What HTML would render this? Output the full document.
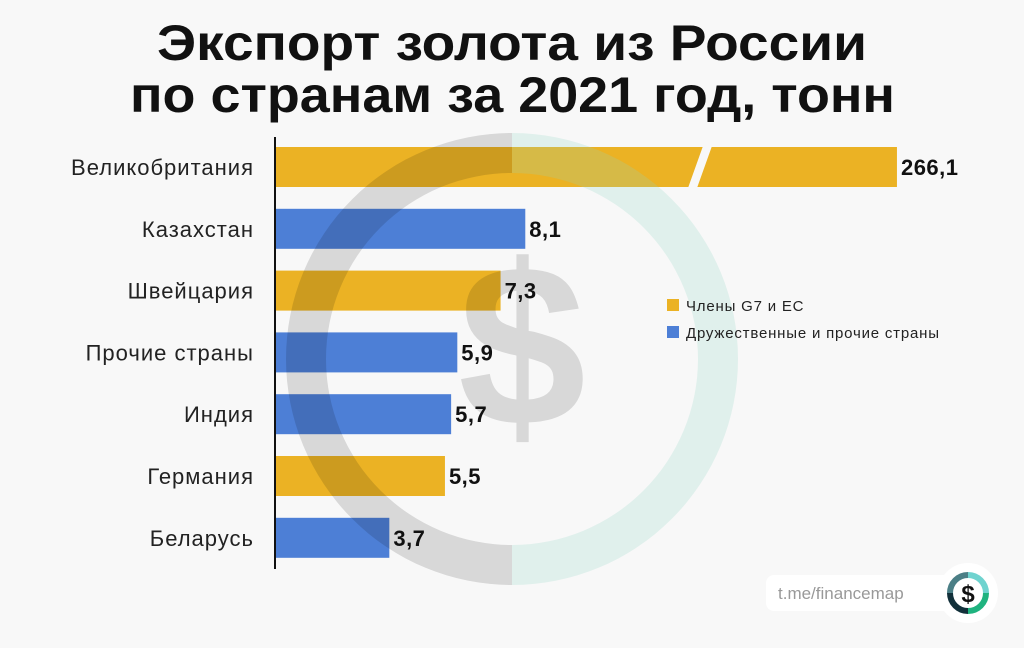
<!DOCTYPE html>
<html><head><meta charset="utf-8"><style>
html,body{margin:0;padding:0;background:#f8f8f8;}
svg{display:block;font-family:"Liberation Sans",sans-serif;}
</style></head><body>
<svg width="1024" height="648" viewBox="0 0 1024 648">
<rect width="1024" height="648" fill="#f8f8f8"/>
<text x="157" y="60" textLength="710" lengthAdjust="spacingAndGlyphs" font-size="50" font-weight="bold" fill="#111">Экспорт золота из России</text>
<text x="130" y="112" textLength="765" lengthAdjust="spacingAndGlyphs" font-size="50" font-weight="bold" fill="#111">по странам за 2021 год, тонн</text>
<g id="bars"></g>
<g id="watermark">
 <path d="M512,133 A226,226 0 0 0 512,585 L512,545 A186,186 0 0 1 512,173 Z" fill="rgba(0,0,0,0.13)"/>
 <path d="M512,133 A226,226 0 0 1 512,585 L512,545 A186,186 0 0 0 512,173 Z" fill="rgba(140,215,195,0.22)"/>
 <text x="522" y="425" text-anchor="middle" font-size="230" font-weight="bold" fill="rgba(0,0,0,0.13)">$</text>
</g>
<line x1="275" y1="137" x2="275" y2="569" stroke="#111" stroke-width="2"/>
<g id="labels"></g>
<g>
 <rect x="667" y="299" width="12" height="12" fill="#ebb224"/>
 <text x="686" y="311" font-size="15" letter-spacing="0.8" fill="#222">Члены G7 и ЕС</text>
 <rect x="667" y="326" width="12" height="12" fill="#4d7fd6"/>
 <text x="686" y="338" font-size="15" letter-spacing="0.8" fill="#222">Дружественные и прочие страны</text>
</g>
<g>
 <rect x="766" y="575" width="190" height="36" rx="8" fill="#fff"/>
 <text x="778" y="599" font-size="17" fill="#999">t.me/financemap</text>
 <circle cx="968" cy="593" r="30" fill="#fff"/>
 <path d="M968,575 A18,18 0 0 1 986,593" stroke="#6fd3cf" stroke-width="6" fill="none"/>
 <path d="M986,593 A18,18 0 0 1 968,611" stroke="#1fb37f" stroke-width="6" fill="none"/>
 <path d="M968,611 A18,18 0 0 1 950,593" stroke="#12303a" stroke-width="6" fill="none"/>
 <path d="M950,593 A18,18 0 0 1 968,575" stroke="#4b7f86" stroke-width="6" fill="none"/>
 <text x="968" y="602" text-anchor="middle" font-size="24" font-weight="bold" fill="#111">$</text>
</g>
</svg>
<script>
const categories=["Великобритания","Казахстан","Швейцария","Прочие страны","Индия","Германия","Беларусь"];
const values=[266.1,8.1,7.3,5.9,5.7,5.5,3.7];
const groups=["g7","friendly","g7","friendly","friendly","g7","friendly"];
const valueLabels=["266,1","8,1","7,3","5,9","5,7","5,5","3,7"];
const NS="http://www.w3.org/2000/svg";
const x0=275, k=30.9, brk=10;
function xScale(v){return v<=brk? x0+v*k : x0+brk*k+(v-brk)*1.222;}
function yCenter(i){return 167+i*61.8;}
const colors={g7:"#ebb224",friendly:"#4d7fd6"};
const gb=document.getElementById('bars'), gl=document.getElementById('labels');
categories.forEach((c,i)=>{
 const yc=yCenter(i), xe=xScale(values[i]);
 const r=document.createElementNS(NS,'rect');
 r.setAttribute('x',x0);r.setAttribute('y',yc-20);r.setAttribute('width',xe-x0);r.setAttribute('height',40);
 r.setAttribute('fill',colors[groups[i]]);
 
 
 gb.appendChild(r);
 if(values[i]>brk){
  const p=document.createElementNS(NS,'polygon');
  p.setAttribute('points',`${688},${yc+21} ${697},${yc+21} ${712},${yc-21} ${703},${yc-21}`);
  p.setAttribute('fill','#f8f8f8');
  
  
  gb.appendChild(p);
 }
 const t=document.createElementNS(NS,'text');
 t.setAttribute('x',254);t.setAttribute('y',yc+8);t.setAttribute('text-anchor','end');
 t.setAttribute('font-size','22');t.setAttribute('letter-spacing','1');t.setAttribute('fill','#222');t.textContent=c;
 
 
 gl.appendChild(t);
 const v=document.createElementNS(NS,'text');
 v.setAttribute('x',xe+4);v.setAttribute('y',yc+8);
 v.setAttribute('font-size','22');v.setAttribute('font-weight','bold');v.setAttribute('letter-spacing','0.5');v.setAttribute('fill','#111');v.textContent=valueLabels[i];
 
 
 gl.appendChild(v);
});
</script>
</body></html>
